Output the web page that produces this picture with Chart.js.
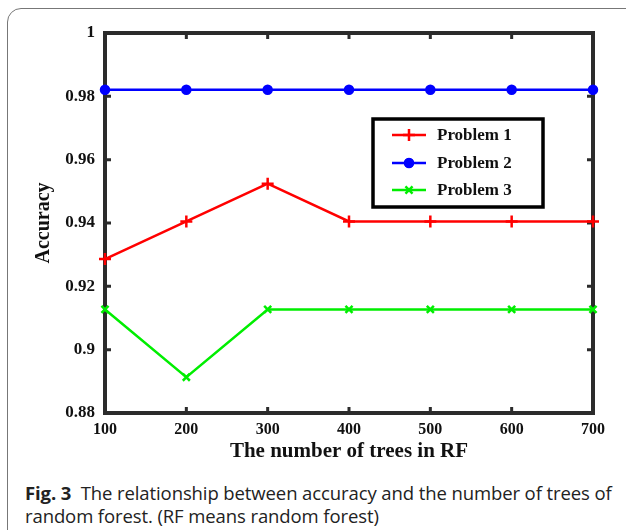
<!DOCTYPE html>
<html>
<head>
<meta charset="utf-8">
<script src="https://cdn.jsdelivr.net/npm/chart.js@4/dist/chart.umd.min.js"></script>
<style>
	body { margin: 0; background: #fff; width: 626px; height: 530px; overflow: hidden; position: relative; }
	#frame { position: absolute; left: 7px; top: 8px; width: 700px; height: 600px; border: 1px solid #777; border-radius: 14px; }
	#chart { position: absolute; left: 0; top: 0; }
	#caption { position: absolute; left: 25px; top: 481px; width: 600px; font-family: "Open Sans", sans-serif; font-size: 18.5px; line-height: 23px; color: #222; letter-spacing: -0.1px; }
	#caption b { font-weight: 700; }
</style>
</head>
<body>
<div id="frame"></div>
<canvas id="chart" width="626" height="472"></canvas>
<div id="caption"><b>Fig. 3</b>&nbsp; The relationship between accuracy and the number of trees of random forest. (RF means random forest)</div>
<script>
	'use strict';

	// values
	var trees = [100, 200, 300, 400, 500, 600, 700];
	var problem1 = [0.9286, 0.9405, 0.9524, 0.9405, 0.9405, 0.9405, 0.9405];
	var problem2 = [0.9821, 0.9821, 0.9821, 0.9821, 0.9821, 0.9821, 0.9821];
	var problem3 = [0.9127, 0.8913, 0.9127, 0.9127, 0.9127, 0.9127, 0.9127];
	var yTicks = [0.88, 0.9, 0.92, 0.94, 0.96, 0.98, 1];

	function points(values) {
		return trees.map(function(t, i) { return {x: t, y: values[i]}; });
	}

	function series(label, values, color, style, radius) {
		return {
			label: label,
			data: points(values),
			borderColor: color,
			backgroundColor: color,
			borderWidth: 2.5,
			pointStyle: style,
			pointRadius: radius,
			pointBorderWidth: 2.5,
			pointBorderColor: color,
			pointBackgroundColor: color,
			clip: false
		};
	}

	var serif = '"Liberation Serif", "Times New Roman", serif';

	// MATLAB style box with inward ticks, drawn under the lines
	var boxPlugin = {
		id: 'box',
		beforeDatasetsDraw: function(chart) {
			var ctx = chart.ctx,
				a = chart.chartArea,
				xs = chart.scales.x,
				ys = chart.scales.y,
				len = 6;

			ctx.save();
			ctx.strokeStyle = '#2b2b2b';
			ctx.lineWidth = 3;
			trees.forEach(function(t) {
				var px = xs.getPixelForValue(t);
				ctx.beginPath();
				ctx.moveTo(px, a.bottom); ctx.lineTo(px, a.bottom - len);
				ctx.moveTo(px, a.top); ctx.lineTo(px, a.top + len);
				ctx.stroke();
			});
			yTicks.forEach(function(v) {
				var py = ys.getPixelForValue(v);
				ctx.beginPath();
				ctx.moveTo(a.left, py); ctx.lineTo(a.left + len, py);
				ctx.moveTo(a.right, py); ctx.lineTo(a.right - len, py);
				ctx.stroke();
			});
			ctx.lineWidth = 4;
			ctx.strokeRect(a.left, a.top, a.right - a.left, a.bottom - a.top);
			ctx.restore();
		}
	};

	// boxed legend inside the plot
	var legendPlugin = {
		id: 'boxLegend',
		afterDraw: function(chart) {
			var ctx = chart.ctx,
				x0 = 373, y0 = 119, w = 170, h = 88,
				rows = [135, 163, 190];

			ctx.save();
			ctx.fillStyle = '#fff';
			ctx.fillRect(x0, y0, w, h);
			ctx.strokeStyle = '#000';
			ctx.lineWidth = 3.5;
			ctx.strokeRect(x0, y0, w, h);

			chart.data.datasets.forEach(function(ds, i) {
				var y = rows[i];
				ctx.strokeStyle = ds.borderColor;
				ctx.lineWidth = 2.5;
				ctx.beginPath();
				ctx.moveTo(392, y);
				ctx.lineTo(426, y);
				ctx.stroke();
				ctx.fillStyle = ds.borderColor;
				Chart.helpers.drawPoint(ctx, {
					pointStyle: ds.pointStyle,
					radius: ds.pointRadius,
					borderWidth: 2.5,
					rotation: 0
				}, 409, y);
				if (ds.pointStyle === 'circle') {
					ctx.beginPath();
					ctx.arc(409, y, ds.pointRadius + 1, 0, Math.PI * 2);
					ctx.fill();
				}
				ctx.fillStyle = '#111';
				ctx.font = 'bold 17px ' + serif;
				ctx.textBaseline = 'middle';
				ctx.fillText(ds.label, 437, y + 1);
			});
			ctx.restore();
		}
	};

	new Chart(document.getElementById('chart'), {
		type: 'line',
		data: {
			datasets: [
				series('Problem 1', problem1, '#ff0000', 'cross', 6),
				series('Problem 2', problem2, '#0000ff', 'circle', 4),
				series('Problem 3', problem3, '#00ee00', 'crossRot', 5)
			]
		},
		options: {
			responsive: false,
			animation: false,
			layout: { padding: { left: 0, top: 33, right: 33, bottom: 0 } },
			plugins: {
				legend: { display: false },
				tooltip: { enabled: false }
			},
			scales: {
				x: {
					type: 'linear',
					min: 100,
					max: 700,
					afterFit: function(scale) { scale.height = 59; },
					grid: { display: false, drawTicks: false },
					border: { display: false },
					ticks: {
						stepSize: 100,
						padding: 7,
						color: '#111',
						font: { family: serif, size: 16, weight: 'bold' }
					},
					title: {
						display: true,
						text: 'The number of trees in RF',
						color: '#111',
						padding: { top: 0, bottom: 8 },
						font: { family: serif, size: 21, weight: 'bold' }
					}
				},
				y: {
					min: 0.88,
					max: 1,
					afterFit: function(scale) { scale.width = 105; },
					grid: { display: false, drawTicks: false },
					border: { display: false },
					ticks: {
						stepSize: 0.02,
						padding: 10,
						color: '#111',
						font: { family: serif, size: 17, weight: 'bold' },
						callback: function(v) { return String(Number(v.toFixed(2))); }
					},
					title: {
						display: true,
						text: 'Accuracy',
						color: '#111',
						padding: { top: 32, bottom: 0 },
						font: { family: serif, size: 20, weight: 'bold' }
					}
				}
			}
		},
		plugins: [boxPlugin, legendPlugin]
	});
</script>
</body>
</html>
